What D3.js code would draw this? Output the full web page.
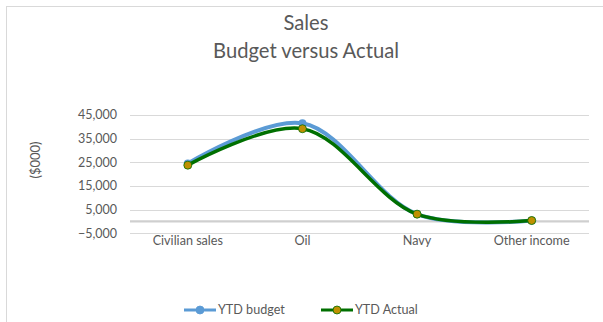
<!DOCTYPE html>
<html>
<head>
<meta charset="utf-8">
<script src="https://cdn.jsdelivr.net/npm/d3@7"></script>
<style>
  body { margin: 0; background: #fff; }
  text { font-family: Lato, "Open Sans", sans-serif; fill: #595959; }
</style>
</head>
<body>
<div id="chart"></div>
<script>
var width = 603;
var height = 322;

var categories = ['Civilian sales', 'Oil', 'Navy', 'Other income'];
var budget = [24500, 41500, 3100, 400];
var actual = [23800, 39200, 3100, 400];
var yTicks = [-5000, 5000, 15000, 25000, 35000, 45000];
var seriesNames = ['YTD budget', 'YTD Actual'];

var svg = d3.select('#chart')
    .append('svg')
    .attr('width', width)
    .attr('height', height);

// outer frame
svg.append('rect')
    .attr('x', 6.5)
    .attr('y', 6.5)
    .attr('width', 620)
    .attr('height', 340)
    .attr('fill', 'none')
    .attr('stroke', '#d9d9d9');

// Scales
var scaleX = d3.scaleBand()
    .domain(categories)
    .range([130.5, 589]);

var scaleY = d3.scaleLinear()
    .domain([-5000, 45000])
    .range([233.3, 115]);

// gridlines
svg.selectAll('.grid')
    .data(yTicks)
    .enter()
    .append('line')
    .attr('x1', 130)
    .attr('x2', 589)
    .attr('y1', function(d) { return Math.round(scaleY(d)) + 0.5; })
    .attr('y2', function(d) { return Math.round(scaleY(d)) + 0.5; })
    .attr('stroke', '#d9d9d9');

// zero line
svg.append('line')
    .attr('x1', 130)
    .attr('x2', 589)
    .attr('y1', scaleY(0))
    .attr('y2', scaleY(0))
    .attr('stroke', '#cfcfcf')
    .attr('stroke-width', 2.2);

// y tick labels
svg.selectAll('.ylab')
    .data(yTicks)
    .enter()
    .append('text')
    .attr('x', 117)
    .attr('y', function(d) { return scaleY(d); })
    .attr('dy', '0.35em')
    .attr('text-anchor', 'end')
    .attr('font-size', 12.5)
    .text(d3.format(','));

// x labels
svg.selectAll('.xlab')
    .data(categories)
    .enter()
    .append('text')
    .attr('x', function(d) { return scaleX(d) + scaleX.bandwidth() / 2; })
    .attr('y', 241)
    .attr('dy', '0.35em')
    .attr('text-anchor', 'middle')
    .attr('font-size', 12.6)
    .text(function(d) { return d; });

// y axis title
svg.append('text')
    .attr('transform', 'translate(35,160) rotate(-90)')
    .attr('text-anchor', 'middle')
    .attr('dy', '0.35em')
    .attr('font-size', 13)
    .text('($000)');

// title
svg.append('text')
    .attr('x', 306)
    .attr('y', 30)
    .attr('text-anchor', 'middle')
    .attr('font-size', 20.2)
    .text('Sales');
svg.append('text')
    .attr('x', 306)
    .attr('y', 58)
    .attr('text-anchor', 'middle')
    .attr('font-size', 20.2)
    .text('Budget versus Actual');

var line = d3.line()
    .x(function(d, i) { return scaleX(categories[i]) + scaleX.bandwidth() / 2; })
    .y(function(d) { return scaleY(d); })
    .curve(d3.curveCatmullRom.alpha(0.5));

// budget series
svg.append('path')
    .datum(budget)
    .attr('d', line)
    .attr('fill', 'none')
    .attr('stroke', '#5b9bd5')
    .attr('stroke-width', 4)
    .attr('stroke-linecap', 'round');
svg.selectAll('.bdot')
    .data(budget)
    .enter()
    .append('circle')
    .attr('cx', function(d, i) { return scaleX(categories[i]) + scaleX.bandwidth() / 2; })
    .attr('cy', function(d) { return scaleY(d); })
    .attr('r', 4)
    .attr('fill', '#5b9bd5');

// actual series
svg.append('path')
    .datum(actual)
    .attr('d', line)
    .attr('fill', 'none')
    .attr('stroke', '#006f00')
    .attr('stroke-width', 3.5)
    .attr('stroke-linecap', 'round');
svg.selectAll('.adot')
    .data(actual)
    .enter()
    .append('circle')
    .attr('cx', function(d, i) { return scaleX(categories[i]) + scaleX.bandwidth() / 2; })
    .attr('cy', function(d) { return scaleY(d); })
    .attr('r', 4)
    .attr('fill', '#bf9000')
    .attr('stroke', '#006f00')
    .attr('stroke-width', 0.8);

// legend
var legend = [
  {name: seriesNames[0], x: 184, color: '#5b9bd5', fill: '#5b9bd5'},
  {name: seriesNames[1], x: 321, color: '#006f00', fill: '#bf9000'}
];
var lg = svg.selectAll('.legend')
    .data(legend)
    .enter()
    .append('g')
    .attr('transform', function(d) { return 'translate(' + d.x + ',310)'; });
lg.append('line')
    .attr('x1', 0)
    .attr('x2', 32)
    .attr('stroke', function(d) { return d.color; })
    .attr('stroke-width', 3);
lg.append('circle')
    .attr('cx', 16)
    .attr('r', 4)
    .attr('fill', function(d) { return d.fill; })
    .attr('stroke', function(d) { return d.color; })
    .attr('stroke-width', 0.8);
lg.append('text')
    .attr('x', 34)
    .attr('dy', '0.35em')
    .attr('font-size', 12.6)
    .text(function(d) { return d.name; });
</script>
</body>
</html>
